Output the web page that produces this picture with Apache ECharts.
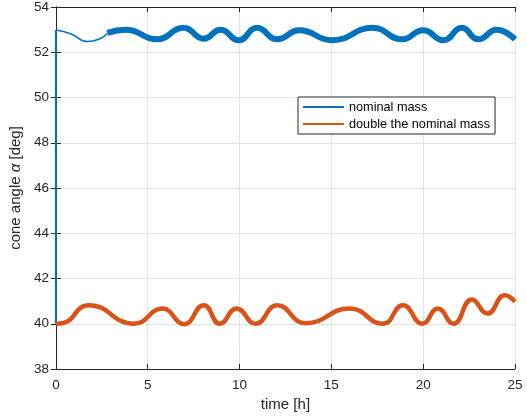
<!DOCTYPE html>
<html>
<head>
<meta charset="utf-8">
<script src="https://cdn.jsdelivr.net/npm/echarts@6/dist/echarts.min.js"></script>
<style>html,body{margin:0;padding:0;background:#fff;}#c{width:527px;height:418px;}</style>
</head>
<body>
<div id="c"></div>
<script>
// Blue: nominal mass
const blueStartT = [0, 0];
const blueStartV = [40.0, 52.98];
const blueThinT = [0, 0.8, 1.72, 2.45, 2.8];
const blueThinV = [52.98, 52.82, 52.47, 52.62, 52.84];
const blueThickT = [2.8, 3.8, 5.5, 6.95, 8.05, 8.97, 9.95, 10.95, 12.05, 13.25, 15.05, 17.25, 18.85, 20.0, 21.1, 22.1, 23.0, 24.0, 25.0];
const blueThickV = [52.86, 53.0, 52.57, 53.08, 52.6, 53.0, 52.53, 53.08, 52.57, 52.97, 52.53, 53.08, 52.57, 52.97, 52.53, 53.08, 52.57, 53.0, 52.57];
// Orange: double the nominal mass
const orangeT = [0, 0.35, 1.8, 4.25, 5.8, 6.98, 8.05, 8.93, 9.84, 10.87, 12.05, 13.6, 16.0, 17.8, 18.9, 19.95, 20.8, 21.65, 22.65, 23.5, 24.45, 25];
const orangeV = [40.0, 40.02, 40.82, 40.0, 40.67, 39.98, 40.82, 40.0, 40.67, 40.0, 40.82, 40.02, 40.67, 40.0, 40.82, 40.0, 40.67, 40.0, 41.07, 40.45, 41.26, 40.97];
const xTicks = [0, 5, 10, 15, 20, 25];
const yTicks = [38, 40, 42, 44, 46, 48, 50, 52, 54];
const seriesNames = ['nominal mass', 'double the nominal mass'];

const zip = (a, b) => a.map((v, i) => [v, b[i]]);
const BLUE = '#0072BD', ORANGE = '#D95319', AX = '#262626';
const font = 'Liberation Sans, Arial, Helvetica, sans-serif';

const chart = echarts.init(document.getElementById('c'), null, {renderer: 'canvas'});
const baseX = {type: 'value', min: xTicks[0], max: xTicks[xTicks.length - 1], interval: 5};
const baseY = {type: 'value', min: yTicks[0], max: yTicks[yTicks.length - 1], interval: 2};
chart.setOption({
  animation: false,
  backgroundColor: '#fff',
  grid: {left: 55, right: 12, top: 6, bottom: 49, containLabel: false},
  legend: {
    data: seriesNames,
    orient: 'vertical',
    left: 298, top: 97,
    padding: [3, 5, 3, 5],
    itemGap: 3,
    itemWidth: 41, itemHeight: 2,
    icon: 'rect',
    backgroundColor: '#fff',
    borderColor: AX, borderWidth: 1,
    textStyle: {fontFamily: font, fontSize: 12.7, color: '#000', lineHeight: 14}
  },
  xAxis: [
    Object.assign({}, baseX, {
      position: 'bottom',
      name: 'time [h]', nameLocation: 'middle', nameGap: 28,
      nameTextStyle: {fontFamily: font, fontSize: 15, color: AX},
      axisLine: {lineStyle: {color: AX, width: 1}},
      axisTick: {inside: true, length: 5, lineStyle: {color: AX}},
      axisLabel: {margin: 9, fontFamily: font, fontSize: 13.5, color: AX},
      splitLine: {show: true, lineStyle: {color: '#e3e3e3', width: 1}}
    }),
    Object.assign({}, baseX, {
      position: 'top',
      axisLine: {lineStyle: {color: AX, width: 1}},
      axisTick: {inside: true, length: 5, lineStyle: {color: AX}},
      axisLabel: {show: false},
      splitLine: {show: false}
    })
  ],
  yAxis: [
    Object.assign({}, baseY, {
      position: 'left',
      name: 'cone angle {a|α} [deg]', nameLocation: 'middle', nameGap: 28,
      nameTextStyle: {fontFamily: font, fontSize: 15, color: AX,
        rich: {a: {fontFamily: font, fontSize: 15, fontStyle: 'italic', color: AX}}},
      axisLine: {show: true, lineStyle: {color: AX, width: 1}},
      axisTick: {show: true, inside: true, length: 5, lineStyle: {color: AX}},
      axisLabel: {margin: 7, fontFamily: font, fontSize: 13.5, color: AX},
      splitLine: {show: true, lineStyle: {color: '#e3e3e3', width: 1}}
    }),
    Object.assign({}, baseY, {
      position: 'right',
      axisLine: {show: true, lineStyle: {color: AX, width: 1}},
      axisTick: {show: true, inside: true, length: 5, lineStyle: {color: AX}},
      axisLabel: {show: false},
      splitLine: {show: false}
    })
  ],
  series: [
    {name: 'blue-start', type: 'line', data: zip(blueStartT, blueStartV), showSymbol: false, symbol: 'none',
     lineStyle: {color: BLUE, width: 2}, itemStyle: {color: BLUE}, z: 2},
    {name: seriesNames[0], type: 'line', data: zip(blueThinT, blueThinV), smooth: 0.5, showSymbol: false, symbol: 'none',
     lineStyle: {color: BLUE, width: 1.5}, itemStyle: {color: BLUE}, z: 2},
    {name: 'blue-thick', type: 'line', data: zip(blueThickT, blueThickV), smooth: 0.5, showSymbol: false, symbol: 'none',
     lineStyle: {color: BLUE, width: 6}, itemStyle: {color: BLUE}, z: 2},
    {name: seriesNames[1], type: 'line', data: zip(orangeT, orangeV), smooth: 0.5, showSymbol: false, symbol: 'none',
     lineStyle: {color: ORANGE, width: 4.5}, itemStyle: {color: ORANGE}, z: 3}
  ]
});
</script>
</body>
</html>
